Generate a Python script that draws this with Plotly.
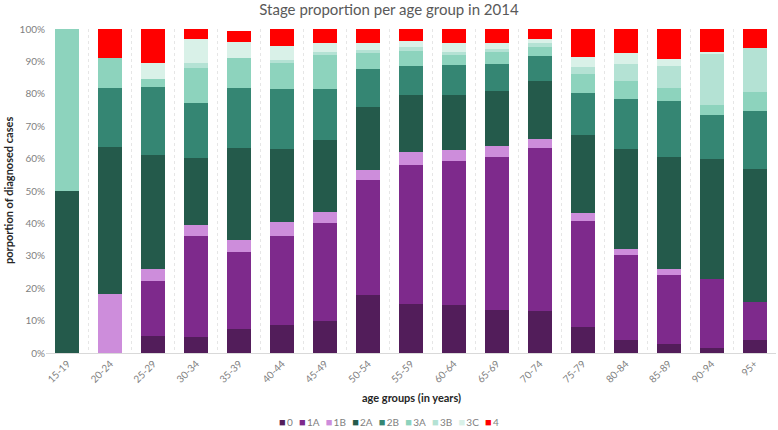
import plotly.graph_objects as go

age_groups = ["15-19", "20-24", "25-29", "30-34", "35-39", "40-44", "45-49", "50-54", "55-59",
              "60-64", "65-69", "70-74", "75-79", "80-84", "85-89", "90-94", "95+"]

stage_names = ["0", "1A", "1B", "2A", "2B", "3A", "3B", "3C", "4"]

stage_0 = [0, 0, 5.2, 5.0, 7.4, 8.6, 9.9, 17.8, 15.0, 14.8, 13.4, 13.0, 8.0, 4.0, 2.7, 1.4, 3.9]
stage_1A = [0, 0, 16.9, 31.1, 23.7, 27.6, 30.3, 35.6, 42.9, 44.4, 47.1, 50.3, 32.6, 26.1, 21.5, 21.3, 11.8]
stage_1B = [0, 18.2, 3.9, 3.3, 3.8, 4.1, 3.2, 3.2, 4.2, 3.6, 3.4, 2.6, 2.5, 1.9, 1.6, 0, 0]
stage_2A = [50.0, 45.5, 35.1, 20.9, 28.4, 22.8, 22.3, 19.4, 17.4, 16.9, 17.0, 18.2, 24.2, 31.1, 34.8, 37.3, 41.2]
stage_2B = [0, 18.2, 20.9, 17.0, 18.5, 18.4, 15.7, 11.8, 9.2, 9.1, 8.2, 7.6, 13.0, 15.4, 17.3, 13.6, 17.7]
stage_3A = [50.0, 9.0, 2.5, 10.6, 9.4, 7.9, 10.6, 4.7, 4.6, 3.2, 3.9, 2.8, 5.7, 5.4, 4.0, 2.8, 6.0]
stage_3B = [0, 0, 0, 1.7, 0, 1.0, 1.0, 1.0, 1.2, 0.8, 0.7, 1.1, 2.4, 5.3, 6.8, 15.8, 13.4]
stage_3C = [0, 0, 5.1, 7.3, 4.9, 4.4, 2.8, 2.3, 1.9, 3.0, 2.1, 1.3, 3.1, 3.5, 2.1, 0.8, 0]
stage_4 = [0, 9.1, 10.4, 3.1, 3.4, 5.2, 4.2, 4.2, 3.6, 4.2, 4.2, 3.1, 8.5, 7.3, 9.2, 7.0, 6.0]

series = [stage_0, stage_1A, stage_1B, stage_2A, stage_2B, stage_3A, stage_3B, stage_3C, stage_4]
colors = ["#521d5a", "#7e2a8c", "#cd8ddb", "#245a4b", "#358673", "#8dd3bd", "#b4e2d4", "#d9f1e8", "#ff0000"]

fig = go.Figure()
for name, vals, col in zip(stage_names, series, colors):
    fig.add_trace(go.Bar(
        name=name, x=age_groups, y=[v / 100 for v in vals],
        marker=dict(color=col, line=dict(width=0)),
        showlegend=False,
    ))

# compact legend drawn as a single text line with coloured squares
legend_text = "\u2002\u2009".join(
    f"<span style='color:{c};font-size:11px'>\u25A0</span>\u2009{n}" for n, c in zip(stage_names, colors)
)

W, H = 778, 430
L, R, T, B = 46, 2, 29, 77
PW, PH = W - L - R, H - T - B

fig.update_layout(
    barmode="stack",
    bargap=0.44,
    width=W, height=H,
    margin=dict(l=L, r=R, t=T, b=B, autoexpand=False),
    paper_bgcolor="white", plot_bgcolor="white",
    font=dict(family="Lato, Open Sans, sans-serif", color="#7f7f7f"),
    title=dict(text="Stage proportion per age group in 2014", x=0.5, xanchor="center",
               y=1 - 10 / H, yanchor="middle",
               font=dict(size=15, color="#595959")),
    xaxis=dict(type="category", tickangle=-45, tickfont=dict(size=10, color="#7f7f7f"),
               showgrid=True, gridcolor="#e6e6e6", griddash="dot", tickson="boundaries",
               ticks="", showline=True, linecolor="#d9d9d9", linewidth=1, automargin=False),
    yaxis=dict(range=[0, 1], tickformat=".0%", dtick=0.1, showgrid=False,
               tickfont=dict(size=10, color="#7f7f7f"), zeroline=False,
               ticks="", showline=False, automargin=False),
    annotations=[
        dict(text="<b>age groups (in years)</b>", x=0.5, y=-(397 - (H - B)) / PH, xref="paper", yref="paper",
             showarrow=False, xanchor="center", yanchor="middle", font=dict(size=11, color="#262626")),
        dict(text="<b>porportion of diagnosed cases</b>", x=(8 - L) / PW, y=0.5, xref="paper", yref="paper",
             showarrow=False, xanchor="center", yanchor="middle", textangle=-90,
             font=dict(size=11, color="#262626")),
        dict(text=legend_text, x=(389 - L) / PW, y=-(421 - (H - B)) / PH, xref="paper", yref="paper",
             showarrow=False, xanchor="center", yanchor="middle",
             font=dict(size=10, color="#7f7f7f")),
    ],
)

fig.write_html("out.html", config={"displayModeBar": False},
               post_script="document.body.style.margin='0';document.body.style.overflow='hidden';")
